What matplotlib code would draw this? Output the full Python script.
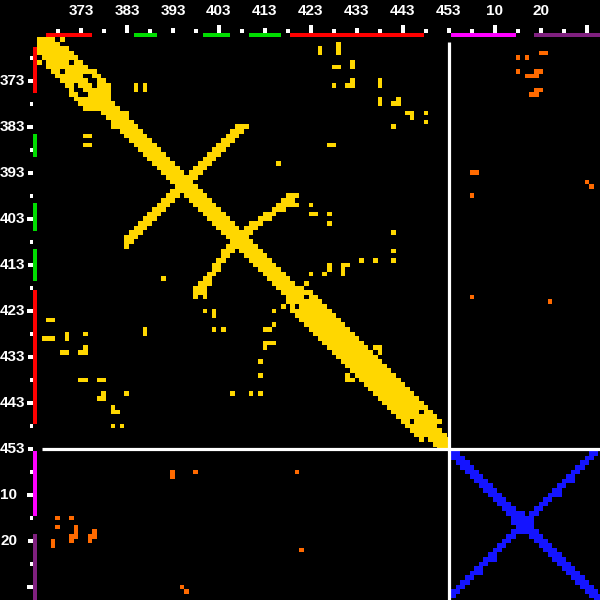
import numpy as np
import matplotlib
matplotlib.use("Agg")
import matplotlib.pyplot as plt
from matplotlib.colors import ListedColormap
from matplotlib.patches import Rectangle

# chain A residues 364-453, chain B residues 1-33
A_FIRST, A_LAST = 364, 453
B_FIRST, B_LAST = 1, 33

# secondary structure segments (first, last, colour)
ss_a = [(366, 375, "#FF0000"), (385, 389, "#00DD00"), (400, 405, "#00DD00"),
        (410, 416, "#00DD00"), (419, 447, "#FF0000")]
ss_b = [(1, 14, "#FF00FF"), (19, 33, "#80207F")]

# reach of the near-diagonal band (max j - i) per chain-A residue
band_a = [3, 3, 4, 4, 4, 4, 4, 5, 5, 5, 5, 4, 3,
          2, 2, 2, 2, 2, 2, 2, 2, 2, 2, 2, 2, 2, 2, 2, 2, 2, 2, 2, 2, 2,
          2, 2, 2, 2, 2, 2, 2, 2, 2, 2, 2, 2, 2, 2, 2, 2, 2, 2, 2, 2,
          3,
          4, 4, 4, 4, 4, 4, 4, 4, 4, 4, 4, 4, 4, 4, 4, 4, 4, 4, 4, 4,
          4, 4, 4, 4, 4, 4, 4, 4, 4,
          2, 2, 2, 2, 2, 2]
band_b = [1] * 33

# gaps inside the band (chain A residue pairs)
holes_a = [(369, 371), (372, 374), (372, 375), (373, 375), (373, 376),
           (374, 376), (420, 422), (445, 447)]

# hairpin 385-389 / 400-405
sheet1 = [(383, 407), (383, 408), (383, 409), (384, 406), (384, 407), (384, 408),
          (385, 405), (385, 406), (385, 407), (386, 404), (386, 405), (386, 406),
          (387, 403), (387, 404), (387, 405), (388, 402), (388, 403), (388, 404),
          (389, 401), (389, 402), (389, 403), (390, 400), (390, 401), (390, 402),
          (391, 399), (391, 400), (391, 401), (392, 398), (392, 399), (392, 400),
          (393, 397), (393, 398), (393, 399), (394, 396), (394, 397), (394, 398)]
# hairpin 400-405 / 410-416
sheet2 = [(398, 418), (398, 419), (398, 420), (399, 417), (399, 418), (399, 419),
          (400, 416), (400, 417), (400, 418), (401, 415), (401, 416), (401, 417),
          (402, 413), (402, 414), (402, 415), (403, 412), (403, 413), (403, 414),
          (404, 410), (404, 411), (404, 412), (405, 409), (405, 410), (405, 411),
          (406, 408), (406, 409), (406, 410), (400, 419), (400, 420)]

# other intra-chain-A contacts
extra_a = [(364, 369), (366, 425), (367, 425), (365, 429), (366, 429), (367, 429),
           (370, 428), (370, 429), (369, 432), (370, 432), (374, 428),
           (373, 432), (374, 431), (374, 432), (373, 438), (374, 438),
           (377, 438), (378, 438), (377, 442), (378, 441), (378, 442),
           (380, 444), (380, 445), (381, 445), (380, 448), (382, 448), (383, 441),
           (387, 427), (387, 428), (391, 416), (374, 385), (375, 385),
           (374, 387), (375, 387), (380, 383), (400, 423), (402, 423), (402, 424),
           (402, 427), (404, 427), (406, 441), (410, 441), (412, 441), (412, 434),
           (412, 437), (413, 430), (413, 431), (414, 430), (415, 430),
           (413, 427), (414, 427), (415, 426), (415, 423), (417, 422),
           (431, 437), (431, 438), (432, 438)]

# inter-chain contacts (chain A residue, chain B residue)
inter_ab = [(368, 15), (368, 17), (367, 20), (367, 21), (371, 15),
            (372, 17), (372, 18), (372, 19), (371, 19), (371, 20),
            (375, 19), (375, 20), (376, 18), (376, 19), (393, 5), (393, 6),
            (398, 5), (395, 30), (396, 31), (420, 5), (421, 22)]

# chain B hairpin
anti_b = [(1, 31), (2, 30), (3, 29), (4, 28), (5, 27), (6, 26), (7, 25), (8, 24),
          (9, 23), (10, 22), (11, 21), (12, 20), (13, 19), (14, 18), (15, 17), (16, 16),
          (1, 32), (2, 31), (3, 30), (4, 29), (5, 28), (6, 27), (7, 26), (8, 25),
          (9, 24), (10, 23), (11, 22), (12, 21), (13, 20), (14, 19), (15, 18), (16, 17),
          (7, 27), (10, 24), (14, 16), (16, 18)]

tick_a = [368, 373, 378, 383, 388, 393, 398, 403, 408, 413, 418, 423, 428, 433,
          438, 443, 448, 453]
label_a = [373, 383, 393, 403, 413, 423, 433, 443, 453]
tall_a = [383, 403, 423, 443]
tick_b = [5, 10, 15, 20, 25, 30]
label_b = [10, 20]
tall_b = [10, 30]

NA = A_LAST - A_FIRST + 1
NB = B_LAST - B_FIRST + 1
N = NA + NB


def ia(r):
    return r - A_FIRST


def ib(r):
    return NA + r - B_FIRST


M = np.zeros((N, N), dtype=int)


def put(i, j, v):
    M[i, j] = v
    M[j, i] = v


for i, w in enumerate(band_a):
    for d in range(w + 1):
        if i + d < NA:
            put(i, i + d, 1)
for a, b in holes_a:
    put(ia(a), ia(b), 0)
for a, b in sheet1 + sheet2 + extra_a:
    put(ia(a), ia(b), 1)
for a, b in inter_ab:
    put(ia(a), ib(b), 2)
for i, w in enumerate(band_b):
    for d in range(w + 1):
        if i + d < NB:
            put(NA + i, NA + i + d, 3)
for a, b in anti_b:
    put(ib(a), ib(b), 3)

# pixel geometry of the reference (cell = 4.6 px, map starts at 37.3 px)
CELL = 4.6
EDGE = 37.3
W = 600


def pd(px):
    # pixel offset from the map's top/left edge -> data coordinate
    return -0.5 - (EDGE - px) / CELL


fig = plt.figure(figsize=(6, 6), dpi=100, facecolor="black")
ax = fig.add_axes([EDGE / W, 0, 1 - EDGE / W, 1 - EDGE / W])
ax.set_facecolor("black")
cmap = ListedColormap(["#000000", "#FFD700", "#FF6A00", "#1414FF"])
ax.imshow(M, cmap=cmap, vmin=0, vmax=3, interpolation="nearest", aspect="auto")
hi = pd(W)
ax.set_xlim(-0.5, hi)
ax.set_ylim(hi, -0.5)
ax.axis("off")

# chain separator
sep = ia(A_LAST) - 0.1
ax.plot([sep, sep], [pd(42), hi], color="white", lw=2.3, solid_capstyle="butt")
ax.plot([pd(42), hi], [sep, sep], color="white", lw=2.3, solid_capstyle="butt")

# secondary structure bars along top and left
segs = [(ia(s), ia(e), c) for s, e, c in ss_a] + [(ib(s), ib(e), c) for s, e, c in ss_b]
for s, e, c in segs:
    ax.add_patch(Rectangle((s - 0.5, pd(32.5)), e - s + 1, pd(37.3) - pd(32.5),
                           facecolor=c, edgecolor="none", clip_on=False))
    ax.add_patch(Rectangle((pd(32.8), s - 0.5), pd(37.3) - pd(32.8), e - s + 1,
                           facecolor=c, edgecolor="none", clip_on=False))

# tick marks
ticks = [(ia(r), r in tall_a, r in label_a) for r in tick_a] + \
        [(ib(r), r in tall_b, r in label_b) for r in tick_b]
tw = 0.9
for p, tall, lab in ticks:
    top = 25 if tall else (28 if lab else 29)
    ax.add_patch(Rectangle((p - tw / 2, pd(top)), tw, pd(32.8) - pd(top),
                           facecolor="white", edgecolor="none", clip_on=False))
    left = 26.5 if tall else (28 if lab else 30)
    ax.add_patch(Rectangle((pd(left), p - tw / 2), pd(33) - pd(left), tw,
                           facecolor="white", edgecolor="none", clip_on=False))

# tick labels
labels = [(ia(r), r) for r in label_a] + [(ib(r), r) for r in label_b]
font = dict(color="white", fontsize=11, fontweight="bold",
            family=["Liberation Sans", "DejaVu Sans"], clip_on=False)
for p, r in labels:
    ax.text(p, pd(11), str(r), ha="center", va="center", **font)
    ax.text(pd(0), p, str(r), ha="left", va="center", **font)

fig.savefig("out.png", dpi=100, facecolor="black")
